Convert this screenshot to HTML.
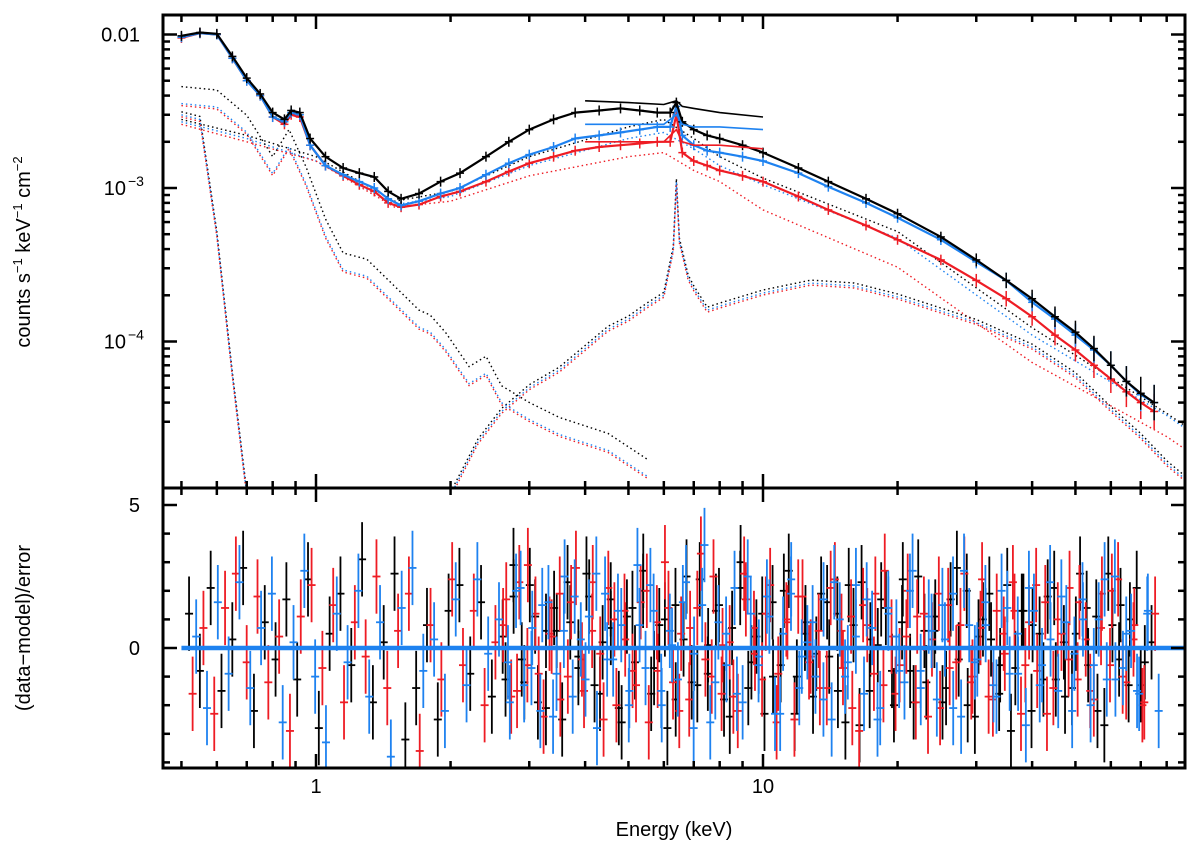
<!DOCTYPE html>
<html><head><meta charset="utf-8">
<style>
html,body{margin:0;padding:0;background:#fff;width:1200px;height:850px;overflow:hidden}
svg text{font-family:"Liberation Sans",Arial,sans-serif;fill:#000}
</style></head><body>
<svg id="chart" width="1200" height="850" viewBox="0 0 1200 850" xmlns="http://www.w3.org/2000/svg">
<defs>
<clipPath id="ctop"><rect x="163" y="15" width="1022" height="473"/></clipPath>
<clipPath id="cbot"><rect x="163" y="488" width="1022" height="280"/></clipPath>
</defs>
<g id="topPanel" clip-path="url(#ctop)"></g>
<g id="botPanel" clip-path="url(#cbot)"></g>
<g id="axes"></g>
<text x="30" y="252" font-size="20" transform="rotate(-90 30 252)" text-anchor="middle">counts s<tspan font-size="13" dy="-8">−1</tspan><tspan dy="8"> keV</tspan><tspan font-size="13" dy="-8">−1</tspan><tspan dy="8"> cm</tspan><tspan font-size="13" dy="-8">−2</tspan></text>
<text x="30" y="628" font-size="20" transform="rotate(-90 30 628)" text-anchor="middle">(data−model)/error</text>
<text x="674" y="836" font-size="20" text-anchor="middle">Energy (keV)</text>
</svg>
<script>
// ---- data ----
const blackE=[0.5,0.55,0.6,0.65,0.7,0.75,0.8,0.85,0.88,0.92,0.97,1.05,1.15,1.25,1.35,1.45,1.55,1.7,1.9,2.1,2.4,2.7,3.0,3.4,3.8,4.3,4.8,5.3,5.8,6.2,6.4,6.6,7.0,7.5,8,9,10,12,14,17,20,25,30,35,40,45,50,55,60,65,70,75];
const blackF=[0.0098,0.0103,0.0101,0.0072,0.0052,0.0041,0.0031,0.0028,0.0032,0.0031,0.0021,0.0016,0.00135,0.00125,0.00118,0.00095,0.00085,0.00092,0.00110,0.00125,0.00160,0.0020,0.0024,0.0028,0.0031,0.0032,0.0033,0.0032,0.0031,0.0031,0.0036,0.0027,0.0024,0.0022,0.0021,0.0019,0.0017,0.00135,0.00110,0.00085,0.00068,0.00048,0.00034,0.00025,0.00019,0.000145,0.000115,0.00009,0.00007,0.000055,0.000046,0.00004];
const blueE=[0.5,0.55,0.6,0.65,0.7,0.75,0.8,0.85,0.88,0.92,0.97,1.05,1.15,1.25,1.35,1.45,1.55,1.7,1.9,2.1,2.4,2.7,3.0,3.4,3.8,4.3,4.8,5.3,5.8,6.2,6.4,6.6,7.0,7.5,8,9,10,12,14,17,20,25,30,35,40,45,50,55,60,65,70,75];
const blueF=[0.0096,0.0102,0.0100,0.0070,0.0050,0.0040,0.0029,0.0027,0.0031,0.0030,0.0019,0.0014,0.00122,0.00110,0.00100,0.00085,0.00077,0.00082,0.00092,0.00100,0.00122,0.00145,0.00165,0.00185,0.0021,0.0022,0.0023,0.0024,0.0025,0.0025,0.0034,0.0022,0.0019,0.00175,0.0017,0.0016,0.0015,0.00125,0.00102,0.00080,0.00064,0.00046,0.00033,0.00025,0.00018,0.000140,0.000110,0.000088,0.00007,0.000055,0.000045,0.00004];
const redE=blueE;
const redF=[0.0095,0.0102,0.0100,0.0070,0.0050,0.0040,0.0029,0.0026,0.0030,0.0029,0.0019,0.0014,0.00120,0.00105,0.00095,0.00080,0.00075,0.00078,0.00088,0.00095,0.00110,0.00128,0.00145,0.00160,0.00175,0.00185,0.00190,0.00195,0.0020,0.0020,0.0030,0.0017,0.0015,0.0014,0.0013,0.0012,0.0011,0.00088,0.00072,0.00057,0.00046,0.00034,0.00025,0.00019,0.000145,0.00011,0.000088,0.00007,0.000057,0.000047,0.00004,0.000035];
const modE=[4,5,6,6.4,6.6,7,8,10];
const modBlack=[0.0037,0.0036,0.0035,0.0037,0.0034,0.0033,0.0031,0.0029];
const modBlue=[0.0026,0.0026,0.0026,0.0030,0.0026,0.0025,0.0025,0.0024];
const modRed=[0.0020,0.0020,0.0020,0.0024,0.0020,0.0019,0.0019,0.0018];
const contE=[0.5,0.7,1,1.5,2,3,5,6,7,8,10,20,40,80,90];
const contBlack=[0.0028,0.0022,0.0016,0.00082,0.00095,0.0016,0.0025,0.0028,0.0021,0.0016,0.00116,0.00052,0.000123,0.000034,0.000027];
const contBlue=[0.0027,0.0021,0.0015,0.00078,0.00088,0.0014,0.0021,0.0023,0.0018,0.0014,0.00105,0.00047,0.00011,0.000033,0.000026];
const contRed=[0.0026,0.0020,0.0015,0.00075,0.00082,0.0012,0.0016,0.0017,0.0013,0.0011,0.00072,0.000305,0.000073,0.000024,0.000019];
const thermE=[0.5,0.6,0.7,0.8,0.87,0.95,1.05,1.15,1.3,1.5,1.7,1.8,1.95,2.2,2.4,2.6,3.0,3.5,4.5,5.5];
const thermF=[0.0040,0.0038,0.0026,0.0014,0.0021,0.0012,0.00055,0.00033,0.00030,0.00020,0.00014,0.00013,0.00010,0.00006,0.00007,0.000045,0.000035,0.000028,0.000022,0.000015];
const softE=[0.5,0.55,0.6,0.65,0.7];
const softF=[0.0030,0.0028,0.0005,0.00006,0.00001];
const reflE=[2.0,2.3,2.6,3.0,3.5,4,4.5,5,5.5,6.0,6.3,6.4,6.5,6.8,7.0,7.5,8,10,12.8,16,20,30,40,50,60,70,80,90];
const reflF=[0.00001,0.000022,0.000035,0.00005,0.000065,0.00009,0.00012,0.00014,0.00017,0.00020,0.00040,0.0011,0.00045,0.00026,0.00022,0.00016,0.00017,0.000207,0.00024,0.00023,0.000195,0.000133,0.000092,0.00006,0.000036,0.000024,0.000016,0.000012];
const resBlack=[1.2,-0.8,2.1,-1.5,0.3,2.8,-2.2,0.9,-0.4,1.7,-1.1,2.4,-2.8,0.5,1.9,-0.6,3.1,-1.9,0.2,2.6,-3.2,-1.4,0.8,-2.5,1.3,2.2,-0.9,1.6,-1.7,0.4,2.9,-1.2,1.1,-2.1,0.6,2.3,-0.3,1.8,-1.6,0.7,-2.6,1.4,2.7,-0.7,1.0,-1.8,2.5,-1.3,0.1,1.5,-2.4,3.0,-0.5,1.2,-1.0,2.0,-2.3,0.9,-0.2,1.6,-1.5,2.2,-2.7,0.3,1.7,-0.8,2.4,-1.9,0.6,1.1,-1.4,2.8,-2.0,0.4,1.9,-0.6,-2.9,1.3,0.8,-1.1,2.1,-1.7,0.5,1.4,-2.2,2.6,-0.4,1.0,-1.3,0.2];
const resRed=[-1.6,0.7,-2.3,1.4,2.6,-0.5,1.8,-1.2,0.4,-2.9,1.1,2.2,-0.7,1.5,-1.9,0.9,-0.3,2.5,-1.4,0.6,1.9,-3.6,0.8,-1.1,2.4,-0.6,1.3,-2.0,0.2,1.7,-1.5,2.9,-0.9,0.5,-1.8,1.6,-0.4,2.3,-2.5,1.0,0.3,-1.3,2.0,-0.8,1.4,-2.2,0.7,3.3,-1.0,0.1,-1.7,2.6,-0.2,1.2,-2.6,0.9,1.8,-0.5,-1.4,2.1,0.6,-2.1,1.5,-0.9,2.7,-1.6,0.4,1.1,-2.4,1.9,-0.7,0.8,-1.2,2.4,-1.8,0.5,1.3,-0.6,2.2,-2.3,1.0,-0.4,1.6,-1.5,0.7,2.0,-1.0,0.3,-1.9,1.2];
const resBlue=[0.4,-2.1,1.6,-0.9,2.3,-1.4,0.7,1.9,-2.6,0.2,2.7,-1.0,-3.3,1.2,-0.5,2.0,-1.7,0.9,-3.8,1.4,2.8,-0.8,0.3,-2.2,1.7,-1.3,2.4,-0.2,1.0,-1.9,2.1,-0.7,1.5,-2.4,0.6,1.8,-1.1,2.6,-0.4,1.3,-2.0,0.8,2.2,-1.5,0.1,1.6,-2.8,3.6,-1.2,0.5,-1.6,2.5,-0.6,1.1,-2.3,1.9,-0.3,0.9,-1.8,2.3,-1.0,0.4,1.7,-2.5,1.2,-0.8,2.0,-1.4,0.6,1.5,-2.1,2.7,-0.5,0.8,-1.7,1.4,-0.9,2.1,-1.3,0.3,1.8,-2.2,1.0,-0.6,2.4,-1.1,0.5,-1.5,1.3,-2.2];
const resBlack2=[-1.1,1.8,-0.4,2.2,-1.9,0.6,1.4,-2.5,0.9,-0.7,2.6,-1.3,0.2,1.7,-2.1,1.1,-0.5,2.0,-1.6,0.8,-2.8,1.5,0.3,-1.2,2.4,-0.9,1.3,-1.8,0.7,2.1,-1.4,0.4,-2.3,1.6,-0.6,2.7,-1.0,0.5,-1.7,1.9,-0.3,1.2,-2.6,0.8,2.3,-1.5,0.1,1.4,-2.0,0.9,-0.8,2.5,-1.2,0.6,-1.9,1.7,-0.4,2.0,-2.4,1.0,0.3,-1.6,2.2,-0.7,1.3,-2.2,0.5,1.8,-1.1,0.2,-1.4,2.6,-0.6,1.1,-2.7,0.8,1.5,-1.3,2.1,-0.5];
const resRed2=[0.8,-1.7,2.3,-0.6,1.2,-2.4,0.4,1.9,-1.0,2.8,-1.5,0.6,-0.2,2.1,-2.0,1.3,-0.8,1.6,-2.6,0.9,3.0,-1.2,0.5,-1.8,1.4,-0.4,2.5,-1.6,0.2,-2.2,1.7,0.7,-1.1,2.2,-0.9,1.0,-2.5,1.8,-0.3,0.6,-1.4,2.4,-0.7,1.1,-2.9,0.8,1.9,-1.3,0.4,-0.6,2.0,-1.9,1.2,0.3,-2.1,1.5,-0.5,2.6,-1.0,0.7,-1.7,1.3,-0.2,2.3,-2.3,0.9,-0.8,1.6,-1.4,0.5,2.1,-1.1,0.3,-1.8,1.9,-0.6,2.4,-1.2,0.8,-2.0];
const resBlue2=[-0.5,2.0,-1.3,0.7,-2.2,1.6,-0.9,2.5,-1.7,0.3,1.1,-2.8,1.9,-0.4,0.8,-1.5,2.9,-0.7,1.3,-2.0,0.6,-1.1,2.3,-0.2,1.5,-2.6,0.9,-0.6,2.1,-1.9,1.2,-0.3,1.8,-2.3,0.5,2.4,-1.4,0.2,-1.0,1.7,-2.5,1.0,-0.5,2.2,-1.6,0.7,-2.1,1.4,0.4,-1.2,2.7,-0.8,1.1,-1.8,0.3,1.9,-2.4,0.8,-0.4,1.6,-1.3,2.0,-0.9,0.5,-2.7,1.3,-0.6,2.3,-1.5,0.9,-0.2,1.7,-2.0,1.0,-1.1,2.5,-0.7,0.6,-1.6,1.2];
const xMajor=[1,10];
const xMinor=[0.5,0.6,0.7,0.8,0.9,2,3,4,5,6,7,8,9,20,30,40,50,60,70,80];
const yTopMajor=[0.01,0.001,0.0001];
const yTopLabels=["0.01","10","10"];
const yTopExp=["","−3","−4"];
const yTopMinor=[0.00003,0.00004,0.00005,0.00006,0.00007,0.00008,0.00009,0.0002,0.0003,0.0004,0.0005,0.0006,0.0007,0.0008,0.0009,0.002,0.003,0.004,0.005,0.006,0.007,0.008,0.009];
const yResTicks=[0,5];
const yResMinor=[-4,-3,-2,-1,1,2,3,4];

const X0=163,X1=1185,T0=15,T1=488,B1=768;
const xE=e=>316+447*Math.log10(e);
const yT=f=>188-153.5*(Math.log10(f)+3);
const yR=r=>648-28.6*r;
const SVGNS='http://www.w3.org/2000/svg';
function mk(tag,attrs,parent){const el=document.createElementNS(SVGNS,tag);for(const k in attrs)el.setAttribute(k,attrs[k]);parent.appendChild(el);return el;}
const topG=document.getElementById('topPanel'),botG=document.getElementById('botPanel'),axG=document.getElementById('axes');
const BLK='#000',RED='#ee1c24',BLU='#1e82f0';

function pts(E,F){return E.map((e,i)=>xE(e).toFixed(1)+','+yT(F[i]).toFixed(1)).join(' ');}
function dotted(E,F,col,dy,name){
  const p=mk('polyline',{points:E.map((e,i)=>xE(e).toFixed(1)+','+(yT(F[i])+dy).toFixed(1)).join(' '),fill:'none',stroke:col,'stroke-width':1.4,'stroke-dasharray':'1.5,3'},topG);
  
  
}
dotted(contE,contBlack,BLK,0,'continuum-component-black');
dotted(contE,contBlue,BLU,0,'continuum-component-blue');
dotted(contE,contRed,RED,0,'continuum-component-red');
[[BLK,-3,'black'],[RED,2,'red'],[BLU,0,'blue']].forEach(([c,dy,n])=>{
  dotted(thermE,thermF,c,dy+(n==='black'?-6:8),'thermal-component-'+n);
  dotted(softE,softF,c,dy,'soft-component-'+n);
  dotted(reflE,reflF,c,dy,'reflection-component-'+n);
});
function series(E,F,col,name){
  const g=mk('g',{},topG);
  
  
  mk('polyline',{points:pts(E,F),fill:'none',stroke:col,'stroke-width':2.2},g);
  E.forEach((e,i)=>{
    const x=xE(e),y=yT(F[i]);
    const h=e>20?4+(e-20)*0.25:5;
    mk('line',{x1:x-4,x2:x+4,y1:y,y2:y,stroke:col,'stroke-width':1.5},g);
    mk('line',{x1:x,x2:x,y1:y-h,y2:y+h,stroke:col,'stroke-width':1.5},g);
  });
}
series(redE,redF,RED,'red');
series(blueE,blueF,BLU,'blue');
series(blackE,blackF,BLK,'black');
[[modBlack,BLK,'black'],[modBlue,BLU,'blue'],[modRed,RED,'red']].forEach(([F,c,n])=>{
  const l=mk('polyline',{points:pts(modE,F),fill:'none',stroke:c,'stroke-width':1.6},topG);
  
  
});

function resid(R,col,name,off,eLo,eHi){
  const g=mk('g',{},botG);
  
  
  const n=R.length,l0=Math.log10(eLo),l1=Math.log10(eHi);
  R.forEach((r,i)=>{
    const e=Math.pow(10,l0+(l1-l0)*(i+off)/(n-1));
    const x=xE(e),y=yR(r);
    mk('line',{x1:x,x2:x,y1:yR(r+1.3),y2:yR(r-1.3),stroke:col,'stroke-width':1.8},g);
    mk('line',{x1:x-4,x2:x+4,y1:y,y2:y,stroke:col,'stroke-width':1.8},g);
  });
}
resid(resBlack,BLK,'black',0,0.52,74);
resid(resBlack2,BLK,'black-extra',0.5,2.6,70);
resid(resRed,RED,'red',0.33,0.52,74);
resid(resRed2,RED,'red-extra',0.2,2.6,70);
resid(resBlue,BLU,'blue',0.66,0.52,74);
resid(resBlue2,BLU,'blue-extra',0.8,2.6,70);
const zl=mk('line',{x1:xE(0.5),x2:xE(90),y1:yR(0),y2:yR(0),stroke:BLU,'stroke-width':4.5},botG);



[[X0,T0,X1-X0,T1-T0,'top-frame'],[X0,T1,X1-X0,B1-T1,'bottom-frame']].forEach(([x,y,w,h,n])=>{
  const r=mk('rect',{x:x,y:y,width:w,height:h,fill:'none',stroke:'#000','stroke-width':3},axG);
  
  
});
function tick(a,b,c,d){mk('line',{x1:a,y1:b,x2:c,y2:d,stroke:'#000','stroke-width':2.5},axG);}
[[T0,1],[T1,1],[T1,-1],[B1,-1]].forEach(([y,d])=>{
  xMajor.forEach(v=>{const x=xE(v);tick(x,y,x,y+d*14);});
  xMinor.forEach(v=>{const x=xE(v);tick(x,y,x,y+d*7);});
});
xMajor.forEach(v=>{
  const t=mk('text',{x:xE(v),y:793,'font-size':20,'text-anchor':'middle'},axG);
  t.textContent=String(v);
  
  
});
yTopMajor.forEach((v,i)=>{
  const y=yT(v);tick(X0,y,X0+14,y);tick(X1,y,X1-14,y);
  const t=mk('text',{x:yTopExp[i]?126:140,y:y+7,'font-size':20,'text-anchor':'end'},axG);
  t.textContent=yTopLabels[i];
  
  
  if(yTopExp[i]){const s=mk('text',{x:128,y:y-2,'font-size':14},axG);s.textContent=yTopExp[i];}
});
yTopMinor.forEach(v=>{const y=yT(v);tick(X0,y,X0+7,y);tick(X1,y,X1-7,y);});
yResTicks.forEach(v=>{
  const y=yR(v);tick(X0,y,X0+14,y);tick(X1,y,X1-14,y);
  const t=mk('text',{x:140,y:y+7,'font-size':20,'text-anchor':'end'},axG);
  t.textContent=String(v);
  
  
});
yResMinor.forEach(v=>{const y=yR(v);tick(X0,y,X0+7,y);tick(X1,y,X1-7,y);});
</script>
</body></html>
